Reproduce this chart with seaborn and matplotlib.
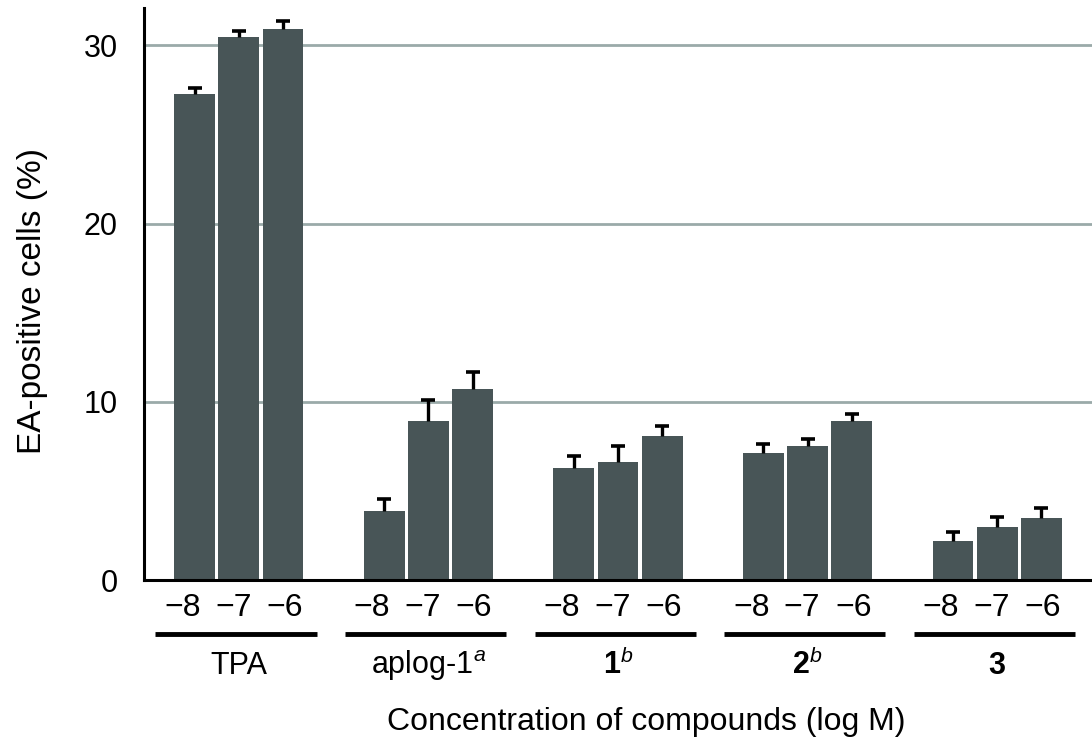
import matplotlib
matplotlib.use("Agg")
import matplotlib.pyplot as plt
import matplotlib.transforms as mtrans
import numpy as np
import pandas as pd
import seaborn as sns

compounds = ["TPA", "aplog-1", "1", "2", "3"]
group_labels = ["TPA", r"aplog-1$^{\mathit{a}}$", r"$\mathbf{1}^{\mathit{b}}$",
                r"$\mathbf{2}^{\mathit{b}}$", r"$\mathbf{3}$"]
concs = ["\u22128", "\u22127", "\u22126"]

tpa = [27.3, 30.5, 30.9]
aplog1 = [3.9, 8.9, 10.7]
cmp1 = [6.3, 6.6, 8.1]
cmp2 = [7.1, 7.5, 8.9]
cmp3 = [2.2, 3.0, 3.5]

tpa_err = [0.3, 0.3, 0.45]
aplog1_err = [0.65, 1.2, 0.95]
cmp1_err = [0.65, 0.9, 0.55]
cmp2_err = [0.55, 0.4, 0.4]
cmp3_err = [0.5, 0.55, 0.55]

bar_color = "#45575a"
grid_color = "#9aaaa9"


def build_df():
    vals = [tpa, aplog1, cmp1, cmp2, cmp3]
    errs = [tpa_err, aplog1_err, cmp1_err, cmp2_err, cmp3_err]
    rows = []
    for name, v, e in zip(compounds, vals, errs):
        for c, vi, ei in zip(concs, v, e):
            rows.append([name, c, vi, ei])
    return pd.DataFrame(rows, columns=["compound", "conc", "value", "err"])


df = build_df()

sns.set_style("white")
plt.rcParams["font.family"] = ["Liberation Sans", "DejaVu Sans"]
plt.rcParams["mathtext.fontset"] = "custom"
plt.rcParams["mathtext.rm"] = "Liberation Sans"
plt.rcParams["mathtext.it"] = "Liberation Sans:italic"
plt.rcParams["mathtext.bf"] = "Liberation Sans:bold"
for key in ["text.color", "axes.labelcolor", "xtick.color", "ytick.color"]:
    plt.rcParams[key] = "black"

fig = plt.figure(figsize=(10.92, 7.46), dpi=100)
ax = fig.add_axes([144 / 1092, 1 - 580 / 746, (1092 - 144) / 1092, 572 / 746])

sns.barplot(data=df, x="compound", y="value", hue="conc", order=compounds,
            hue_order=concs, palette=[bar_color] * 3, width=0.70, gap=0.08,
            errorbar=None, legend=False, linewidth=0, ax=ax, zorder=2)

# error bars (upper only) on top of the bars
xs, tops, ups = [], [], []
for j, cont in enumerate(ax.containers):
    for i, bar in enumerate(cont):
        row = df[(df.compound == compounds[i]) & (df.conc == concs[j])].iloc[0]
        xs.append(bar.get_x() + bar.get_width() / 2)
        tops.append(bar.get_height())
        ups.append(row["err"])
eb = ax.errorbar(xs, tops, yerr=[np.zeros(len(ups)), ups], fmt="none",
                 ecolor="black", elinewidth=2.4, capsize=5, capthick=2.6, zorder=3)
eb[1][0].set_visible(False)  # no cap at the bar top

ax.set_ylim(0, 32.1)
ax.set_xlim(-0.5, 4.44)
ax.set_yticks([0, 10, 20, 30])
ax.yaxis.grid(True, color=grid_color, linewidth=2)
ax.set_axisbelow(True)

order = np.argsort(xs)
ax.set_xticks(np.array(xs)[order])
ax.set_xticklabels([concs[k // 5] for k in order])
ax.set_xticks(np.arange(-0.5, 5, 1.0), minor=True)
ax.tick_params(axis="x", which="major", length=0, pad=9, labelsize=23)
ax.tick_params(axis="x", which="minor", length=6, width=2, direction="out")
ax.tick_params(axis="y", length=6, width=2, direction="out", pad=13, labelsize=22)

# labels are spread a bit wider than the bars in the original
offsets = [-0.12, -0.055, 0.015]
for lab, k in zip(ax.get_xticklabels(), order):
    shift = mtrans.ScaledTranslation(offsets[k // 5], 0, fig.dpi_scale_trans)
    lab.set_transform(lab.get_transform() + shift)

ax.set_xlabel("")
ax.set_ylabel("")
for s in ["top", "right"]:
    ax.spines[s].set_visible(False)
for s in ["left", "bottom"]:
    ax.spines[s].set_linewidth(2.2)
    ax.spines[s].set_color("black")

trans = ax.get_xaxis_transform()
for i, lab in enumerate(group_labels):
    ax.plot([i - 0.44, i + 0.41], [-0.0945, -0.0945], color="black", lw=3.5,
            transform=trans, clip_on=False, solid_capstyle="butt")
    ax.text(i, (580 - 674) / 572, lab, transform=trans, ha="center",
            va="baseline", fontsize=22)

fig.text(646 / 1092, 1 - 730 / 746, "Concentration of compounds (log M)",
         ha="center", va="baseline", fontsize=23)
fig.text(33 / 1092, 1 - 301 / 746, "EA-positive cells (%)", rotation=90,
         ha="center", va="center", fontsize=24)

fig.savefig("out.png", dpi=100)
